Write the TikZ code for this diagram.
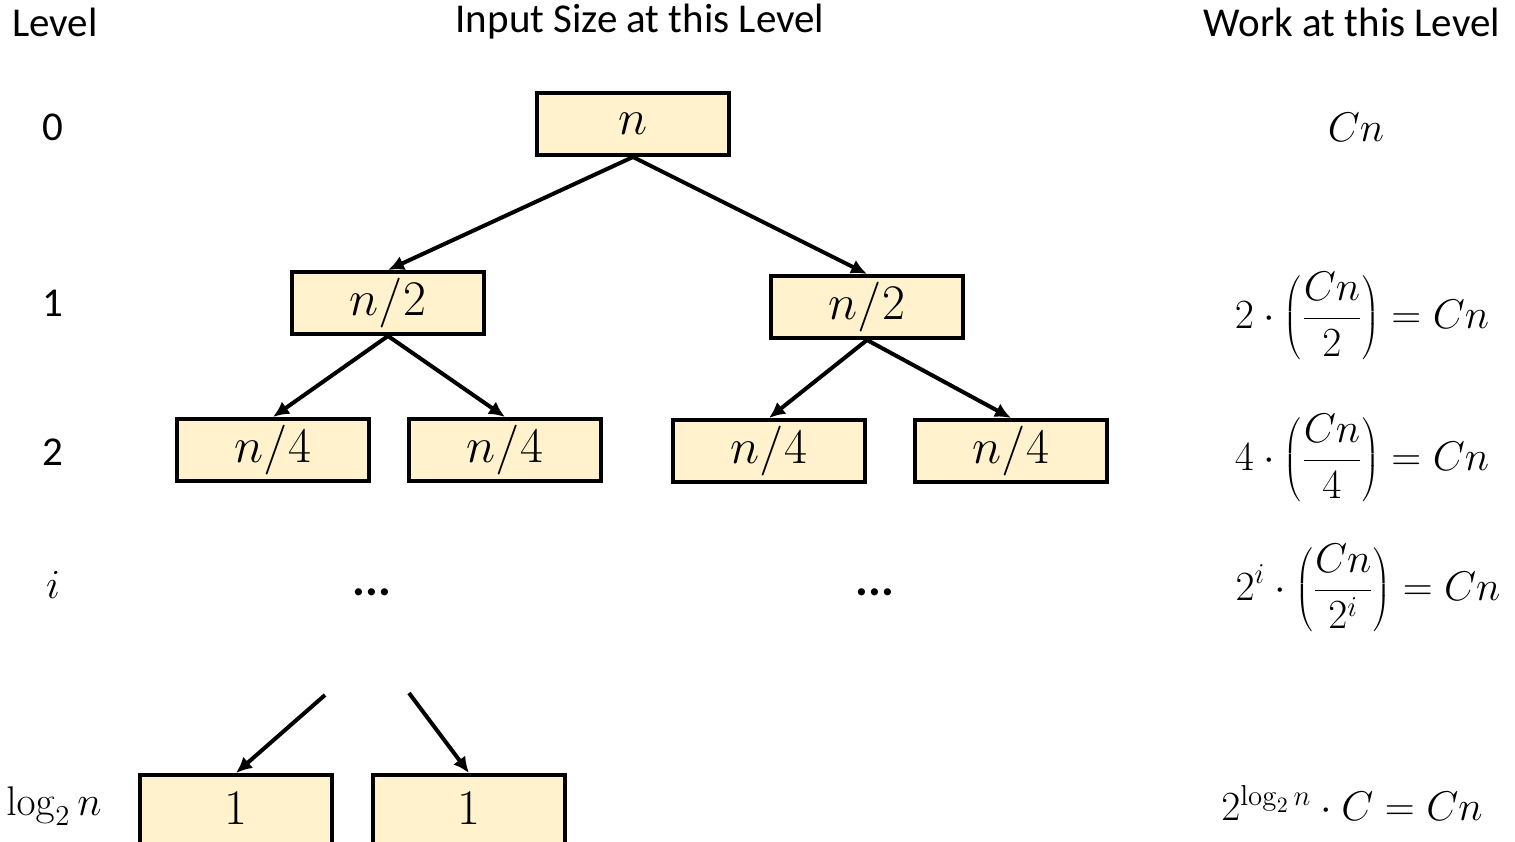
\documentclass[tikz,border=0pt]{standalone}
\usepackage[no-math]{fontspec}
\setmainfont{Carlito}
\usetikzlibrary{arrows.meta}
\definecolor{boxfill}{HTML}{FFF2CC}
\begin{document}
\begin{tikzpicture}[x=0.5pt,y=-0.5pt,
  sizebox/.style={draw=black, line width=2pt, fill=boxfill, minimum width=96pt, minimum height=31pt, inner sep=0pt, font=\fontsize{25}{30}\selectfont},
  hdr/.style={font=\fontsize{20.5}{24}\selectfont, inner sep=0pt},
  lvl/.style={font=\fontsize{20.5}{24}\selectfont, inner sep=0pt},
  work/.style={font=\fontsize{20}{24}\selectfont, inner sep=0pt},
  dots/.style={font=\fontsize{24}{28}\selectfont\bfseries, inner sep=0pt},
  edge/.style={line width=2pt, -{Latex[length=8pt,width=7.5pt]}}]
\useasboundingbox (0,0) rectangle (1515,841);

% headers
\node[hdr] (hlevel) at (55,22) {Level};
\node[hdr] (hinput) at (640,22) {Input Size at this Level};
\node[hdr] (hwork) at (1352,22) {Work at this Level};

% level labels
\node[lvl] (l0) at (53,127) {0};
\node[lvl] (l1) at (53,303) {1};
\node[lvl] (l2) at (53,452) {2};
\node[lvl] (li) at (53,585) {$i$};
\node[lvl] (llog) at (54,806) {$\log_2 n$};

% boxes
\node[sizebox] (root) at (633,124) {$n$};
\node[sizebox] (a) at (388,303) {$n/2$};
\node[sizebox] (b) at (867,307) {$n/2$};
\node[sizebox] (aa) at (273,450) {$n/4$};
\node[sizebox] (ab) at (505,450) {$n/4$};
\node[sizebox] (ba) at (769,451) {$n/4$};
\node[sizebox] (bb) at (1011,451) {$n/4$};
\node[sizebox, minimum height=37pt] (x1) at (236,812) {\raisebox{4pt}{$1$}};
\node[sizebox, minimum height=37pt] (x2) at (469,812) {\raisebox{4pt}{$1$}};

% dots
\node[dots] (d1) at (372,592) {...};
\node[dots] (d2) at (875,592) {...};

% edges
\draw[edge] (root.south) -- (a.north);
\draw[edge] (root.south) -- (b.north);
\draw[edge] (a.south) -- (aa.north);
\draw[edge] (a.south) -- (ab.north);
\draw[edge] (b.south) -- (ba.north);
\draw[edge] (b.south) -- (bb.north);
\coordinate (s1) at (325,695);
\coordinate (s2) at (409,693);
\draw[edge] (s1) -- (x1.north);
\draw[edge] (s2) -- (x2.north);

% work
\node[work] (w0) at (1356,127) {$Cn$};
\node[work] (w1) at (1362,316) {$\displaystyle 2\cdot\left(\frac{Cn}{2}\right)=Cn$};
\node[work] (w2) at (1362,458) {$\displaystyle 4\cdot\left(\frac{Cn}{4}\right)=Cn$};
\node[work] (wi) at (1368,588) {$\displaystyle 2^{i}\cdot\left(\frac{Cn}{2^{i}}\right)=Cn$};
\node[work, font=\fontsize{21.5}{26}\selectfont] (wl) at (1352,803) {$2^{\log_2 n}\cdot C=Cn$};
\end{tikzpicture}
\end{document}
